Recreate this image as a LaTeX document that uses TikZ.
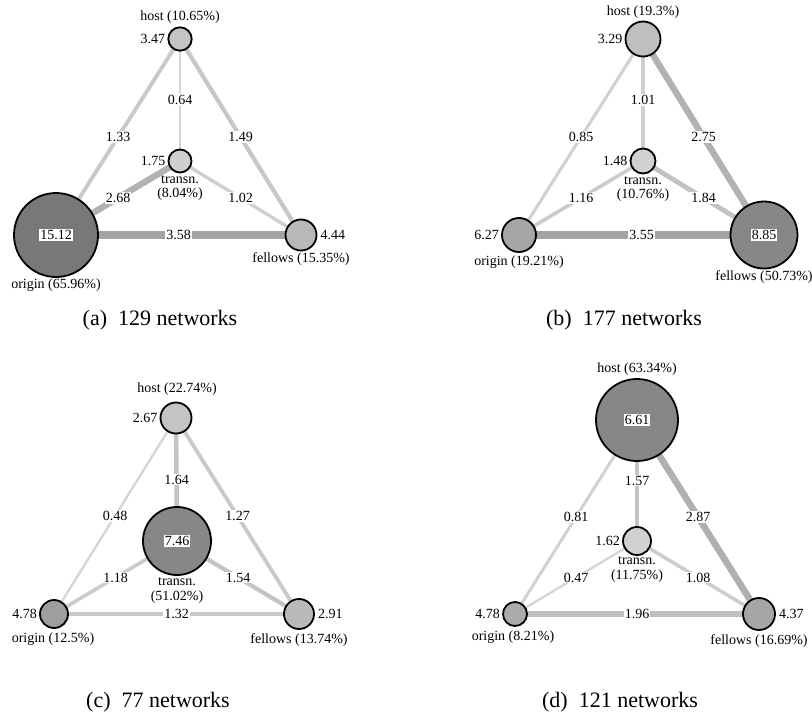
\documentclass[tikz,border=0pt]{standalone}
\usepackage{fontspec}
\setmainfont{Liberation Serif}
\newcommand\lblfont{\fontsize{14}{14.5}\selectfont}
\newcommand\capfont{\fontsize{22}{24}\selectfont}
\pgfdeclarelayer{edgelayer}
\pgfsetlayers{edgelayer,main}
\tikzset{
  vtx/.style={circle, draw=black, line width=1.8pt, inner sep=0pt, minimum size=#1},
  lbl/.style={font=\lblfont, inner sep=1pt, align=center},
  elab/.style={font=\lblfont, fill=white, inner sep=1pt},
  vbox/.style={font=\lblfont, fill=white, inner sep=1.2pt},
  captxt/.style={font=\capfont, inner sep=0pt},
  lnk/.style={line cap=butt}
}
\newcommand\edgeAB[4]{%
  \pgfmathsetmacro\lw{1.6+1.75*#3}%
  \pgfmathsetmacro\shade{int(13+6.5*#3)}%
  \draw[lnk, line width=\lw pt, draw=black!\shade] (#1.center) -- (#2.center) node[elab, midway] (#4) {#3};}
\begin{document}
\begin{tikzpicture}[x=1pt,y=-1pt]
\useasboundingbox (0,0) rectangle (812,715);
% ---------------- panel (a)
\node[vtx=23.4pt, fill=black!23] (aH) at (180,39) {};
\node[vtx=23pt, fill=black!19] (aT) at (180,161) {};
\node[vtx=84pt, fill=black!53] (aO) at (56,235) {};
\node[vtx=31pt, fill=black!28] (aF) at (301,235) {};
\begin{pgfonlayer}{edgelayer}
\edgeAB{aH}{aO}{1.33}{aHO}
\edgeAB{aH}{aT}{0.64}{aHT}
\edgeAB{aH}{aF}{1.49}{aHF}
\edgeAB{aT}{aO}{2.68}{aTO}
\edgeAB{aT}{aF}{1.02}{aTF}
\edgeAB{aO}{aF}{3.58}{aOF}
\end{pgfonlayer}
\node[lbl] (aHn) at (180,17) {host (10.65\%)};
\node[lbl, anchor=east] (aHv) at ([xshift=-1pt]aH.west) {3.47};
\node[lbl, anchor=east] (aTv) at ([xshift=-1pt]aT.west) {1.75};
\node[lbl, anchor=north] (aTn) at ([yshift=-1pt]aT.south) {transn.\\(8.04\%)};
\node[vbox] (aOv) at (aO.center) {15.12};
\node[lbl] (aOn) at (56,285) {origin (65.96\%)};
\node[lbl, anchor=west] (aFv) at ([xshift=2pt]aF.east) {4.44};
\node[lbl] (aFn) at (301,259) {fellows (15.35\%)};
\node[captxt] (aCap) at (160,320) {(a)\hspace{0.5em}129 networks};
% ---------------- panel (b)
\node[vtx=35pt, fill=black!25] (bH) at (643,39) {};
\node[vtx=25pt, fill=black!18] (bT) at (643,161) {};
\node[vtx=34pt, fill=black!35] (bO) at (519,235) {};
\node[vtx=67pt, fill=black!47] (bF) at (764,235) {};
\begin{pgfonlayer}{edgelayer}
\edgeAB{bH}{bO}{0.85}{bHO}
\edgeAB{bH}{bT}{1.01}{bHT}
\edgeAB{bH}{bF}{2.75}{bHF}
\edgeAB{bT}{bO}{1.16}{bTO}
\edgeAB{bT}{bF}{1.84}{bTF}
\edgeAB{bO}{bF}{3.55}{bOF}
\end{pgfonlayer}
\node[lbl] (bHn) at (643,12) {host (19.3\%)};
\node[lbl, anchor=east] (bHv) at ([xshift=-1pt]bH.west) {3.29};
\node[lbl, anchor=east] (bTv) at ([xshift=-1pt]bT.west) {1.48};
\node[lbl, anchor=north] (bTn) at ([yshift=-1pt]bT.south) {transn.\\(10.76\%)};
\node[lbl, anchor=east] (bOv) at ([xshift=-1pt]bO.west) {6.27};
\node[lbl] (bOn) at (519,262) {origin (19.21\%)};
\node[vbox] (bFv) at (bF.center) {8.85};
\node[lbl] (bFn) at (764,277) {fellows (50.73\%)};
\node[captxt] (bCap) at (624,320) {(b)\hspace{0.5em}177 networks};
% ---------------- panel (c)
\node[vtx=31pt, fill=black!23] (cH) at (176,418) {};
\node[vtx=68pt, fill=black!47] (cT) at (177,541) {};
\node[vtx=28pt, fill=black!38] (cO) at (54,614) {};
\node[vtx=30pt, fill=black!27] (cF) at (299,614) {};
\begin{pgfonlayer}{edgelayer}
\edgeAB{cH}{cO}{0.48}{cHO}
\edgeAB{cH}{cT}{1.64}{cHT}
\edgeAB{cH}{cF}{1.27}{cHF}
\edgeAB{cT}{cO}{1.18}{cTO}
\edgeAB{cT}{cF}{1.54}{cTF}
\edgeAB{cO}{cF}{1.32}{cOF}
\end{pgfonlayer}
\node[lbl] (cHn) at (177,389) {host (22.74\%)};
\node[lbl, anchor=east] (cHv) at ([xshift=-1pt]cH.west) {2.67};
\node[vbox] (cTv) at (cT.center) {7.46};
\node[lbl, anchor=north] (cTn) at ([yshift=-1pt]cT.south) {transn.\\(51.02\%)};
\node[lbl, anchor=east] (cOv) at ([xshift=-1pt]cO.west) {4.78};
\node[lbl] (cOn) at (53,639) {origin (12.5\%)};
\node[lbl, anchor=west] (cFv) at ([xshift=2pt]cF.east) {2.91};
\node[lbl] (cFn) at (299,640) {fellows (13.74\%)};
\node[captxt] (cCap) at (158,702) {(c)\hspace{0.5em}77 networks};
% ---------------- panel (d)
\node[vtx=82pt, fill=black!47] (dH) at (637,420) {};
\node[vtx=28pt, fill=black!18] (dT) at (637,541) {};
\node[vtx=24pt, fill=black!33] (dO) at (515,614) {};
\node[vtx=32pt, fill=black!35] (dF) at (759,614) {};
\begin{pgfonlayer}{edgelayer}
\edgeAB{dH}{dO}{0.81}{dHO}
\edgeAB{dH}{dT}{1.57}{dHT}
\edgeAB{dH}{dF}{2.87}{dHF}
\edgeAB{dT}{dO}{0.47}{dTO}
\edgeAB{dT}{dF}{1.08}{dTF}
\edgeAB{dO}{dF}{1.96}{dOF}
\end{pgfonlayer}
\node[lbl] (dHn) at (637,369) {host (63.34\%)};
\node[vbox] (dHv) at (dH.center) {6.61};
\node[lbl, anchor=east] (dTv) at ([xshift=-1pt]dT.west) {1.62};
\node[lbl, anchor=north] (dTn) at ([yshift=0pt]dT.south) {transn.\\(11.75\%)};
\node[lbl, anchor=east] (dOv) at ([xshift=-1pt]dO.west) {4.78};
\node[lbl] (dOn) at (513,637) {origin (8.21\%)};
\node[lbl, anchor=west] (dFv) at ([xshift=2pt]dF.east) {4.37};
\node[lbl] (dFn) at (759,641) {fellows (16.69\%)};
\node[captxt] (dCap) at (620,702) {(d)\hspace{0.5em}121 networks};
\end{tikzpicture}
\end{document}
